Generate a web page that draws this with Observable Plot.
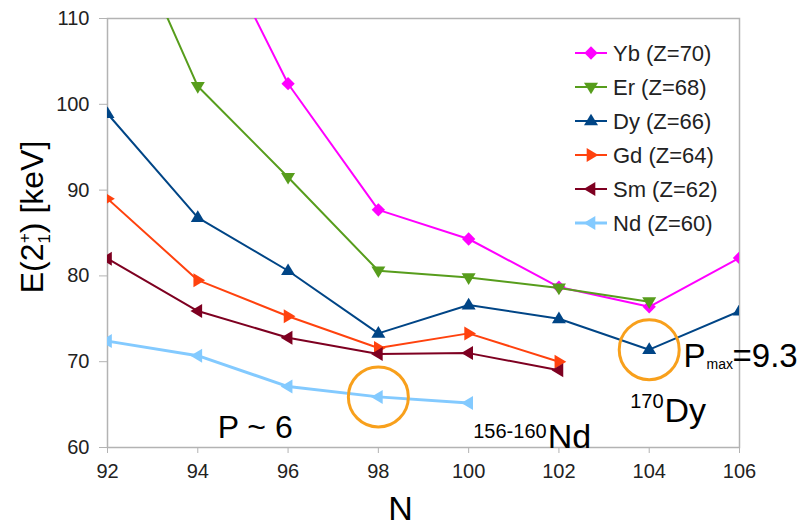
<!DOCTYPE html>
<html><head><meta charset="utf-8">
<script src="https://cdn.jsdelivr.net/npm/d3@7"></script>
<script src="https://cdn.jsdelivr.net/npm/@observablehq/plot@0.6"></script>
<style>
body{margin:0;background:#fff;font-family:"Liberation Sans",Arial,sans-serif}
#chart{position:relative;width:800px;height:525px}
</style>
</head><body><div id="chart"></div>
<script>
// ---- data ----
const xTicks = [92, 94, 96, 98, 100, 102, 104, 106];
const yTicks = [60, 70, 80, 90, 100, 110];

const seriesNames = ["Yb (Z=70)", "Er (Z=68)", "Dy (Z=66)", "Gd (Z=64)", "Sm (Z=62)", "Nd (Z=60)"];
const seriesColors = ["#ff00ff", "#579d1c", "#004586", "#ff420e", "#7e0021", "#83caff"];
const seriesSymbols = ["diamond", "down", "up", "right", "left", "left"];
const seriesWidths = [2, 2, 2, 2, 2, 3];

const ybN = [94, 96, 98, 100, 102, 104, 106];
const ybE = [123.4, 102.4, 87.7, 84.3, 78.7, 76.4, 82.1];
const erN = [92, 94, 96, 98, 100, 102, 104];
const erE = [125.8, 102.1, 91.5, 80.6, 79.8, 78.6, 77.0];
const dyN = [92, 94, 96, 98, 100, 102, 104, 106];
const dyE = [98.9, 86.8, 80.6, 73.3, 76.6, 75.0, 71.4, 75.9];
const gdN = [92, 94, 96, 98, 100, 102];
const gdE = [89.0, 79.5, 75.3, 71.6, 73.3, 70.0];
const smN = [92, 94, 96, 98, 100, 102];
const smE = [82.0, 75.9, 72.8, 70.9, 71.0, 69.0];
const ndN = [92, 94, 96, 98, 100];
const ndE = [72.4, 70.7, 67.1, 65.9, 65.2];

const seriesN = [ybN, erN, dyN, gdN, smN, ndN];
const seriesE = [ybE, erE, dyE, gdE, smE, ndE];

// highlighted points (orange circles)
const circleN = [98, 104];
const circleE = [65.9, 71.4];

// annotations: text, N, E (baseline), size, anchor
const annText = ["P ~ 6", "156-160", "Nd", "170", "Dy", "P", "max", "=9.3"];
const annN = [94.44, 101.75, 101.75, 104.34, 104.34, 104.76, 104.76, 104.76];
const annE = [61.05, 61.15, 60.0, 64.55, 63.0, 69.44, 69.1, 69.44];
const annSize = [32, 20, 34, 20, 34, 33, 14, 33];
const annAnchor = ["start", "end", "start", "end", "start", "start", "start", "start"];
const annDx = [0, -1, 0, -1, 0, 0, 23, 49];

// ---- custom marker symbols ----
function tri(angle) {
  return {
    draw(ctx, size) {
      const r = Math.sqrt(size / Math.PI);
      const pts = [[0, -r * 1.05], [r * 1.0, r * 0.62], [-r * 1.0, r * 0.62]];
      const c = Math.cos(angle), s = Math.sin(angle);
      pts.forEach(([x, y], i) => {
        const X = x * c - y * s, Y = x * s + y * c;
        i ? ctx.lineTo(X, Y) : ctx.moveTo(X, Y);
      });
      ctx.closePath();
    }
  };
}
const symbolMap = {
  up: tri(0),
  down: tri(Math.PI),
  right: tri(Math.PI / 2),
  left: tri(-Math.PI / 2),
  diamond: {
    draw(ctx, size) {
      const r = Math.sqrt(size / Math.PI) * 0.95;
      ctx.moveTo(0, -r); ctx.lineTo(r, 0); ctx.lineTo(0, r); ctx.lineTo(-r, 0); ctx.closePath();
    }
  }
};
const markerR = 7;

// ---- build table ----
const rows = [];
seriesNames.forEach((name, i) => {
  seriesN[i].forEach((n, j) => rows.push({series: name, idx: i, N: n, E: seriesE[i][j]}));
});
const annotations = annText.map((t, i) => ({t, N: annN[i], E: annE[i], size: annSize[i], anchor: annAnchor[i], dx: annDx[i]}));

const marks = [];
seriesNames.forEach((name, i) => {
  const d = rows.filter(r => r.idx === i);
  marks.push(Plot.line(d, {x: "N", y: "E", stroke: seriesColors[i], strokeWidth: seriesWidths[i], clip: true}));
  marks.push(Plot.dot(d, {x: "N", y: "E", fill: seriesColors[i], stroke: "none", symbol: symbolMap[seriesSymbols[i]], r: markerR, clip: true}));
});

const circles = circleN.map((n, i) => ({N: n, E: circleE[i]}));
marks.push(Plot.dot(circles, {x: "N", y: "E", r: 30, stroke: "#f8a01c", strokeWidth: 3, fill: "none"}));

annotations.forEach(a => {
  marks.push(Plot.text([a], {x: "N", y: "E", text: "t", fontSize: a.size, textAnchor: a.anchor, lineAnchor: "bottom", dx: a.dx, fill: "#000"}));
});

const plot = Plot.plot({
  width: 800,
  height: 525,
  marginLeft: 107,
  marginRight: 61,
  marginTop: 18,
  marginBottom: 78,
  style: {fontFamily: "Liberation Sans, Arial, sans-serif", background: "#fff", overflow: "visible"},
  x: {domain: [92, 106]},
  y: {domain: [60, 110]},
  marks: [
    Plot.frame({stroke: "#b3b3b3", strokeWidth: 1.5}),
    Plot.axisX({ticks: xTicks, tickSize: 6, tickPadding: 10, fontSize: 20, stroke: "#b3b3b3", fill: "#222", label: null}),
    Plot.axisY({ticks: yTicks, tickSize: 8, tickPadding: 10, fontSize: 20, stroke: "#b3b3b3", fill: "#222", label: null}),
    Plot.text(["N"], {frameAnchor: "bottom", dy: 72, dx: -23, fontSize: 34, fill: "#000", lineAnchor: "bottom"}),
    ...marks
  ]
});

document.getElementById("chart").appendChild(plot);

// ---- y axis title with stacked sub/superscript ----
const svg = d3.select(plot);
const yt = svg.append("text")
  .attr("transform", "translate(43,217) rotate(-90)")
  .attr("text-anchor", "middle")
  .attr("fill", "#000")
  .style("font-size", "32px");
yt.append("tspan").text("E(2");
yt.append("tspan").attr("dy", 7).style("font-size", "17px").text("1");
yt.append("tspan").attr("dx", -9).attr("dy", -20).style("font-size", "17px").text("+");
yt.append("tspan").attr("dy", 13).text(") [keV]");

// ---- legend ----
const lg = svg.append("g").attr("transform", "translate(575,53)").attr("text-anchor", "start");
seriesNames.forEach((name, i) => {
  const row = lg.append("g").attr("transform", `translate(0,${i * 34})`);
  row.append("line").attr("x1", 0).attr("x2", 32).attr("stroke", seriesColors[i]).attr("stroke-width", seriesWidths[i]);
  row.append("path").attr("transform", "translate(16,0)")
    .attr("d", d3.symbol(symbolMap[seriesSymbols[i]], markerR * markerR * Math.PI)())
    .attr("fill", seriesColors[i]);
  row.append("text").attr("x", 38).attr("dy", "0.35em").attr("text-anchor", "start").attr("fill", "#222").style("font-size", "22px").text(name);
});
</script>
</body></html>
